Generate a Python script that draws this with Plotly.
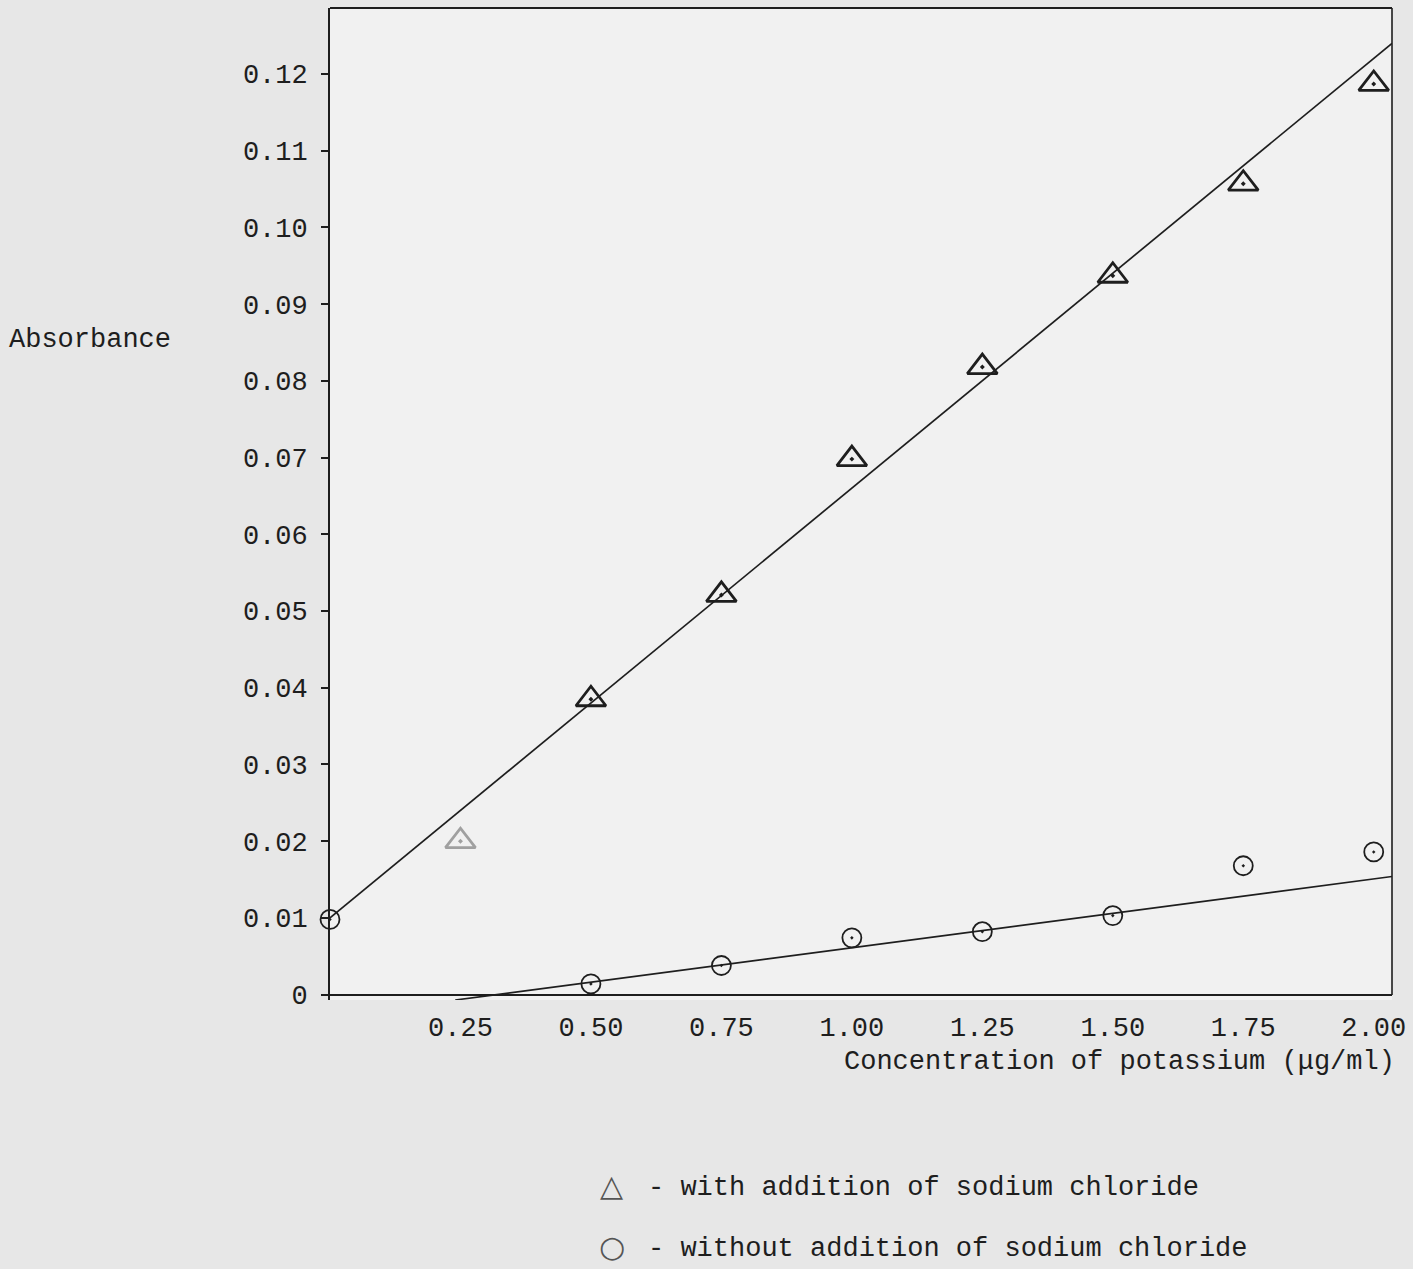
import plotly.graph_objects as go

# ---- data ----
conc_with = [0.25, 0.50, 0.75, 1.00, 1.25, 1.50, 1.75, 2.00]
abs_with = [0.0200, 0.0385, 0.0521, 0.0698, 0.0818, 0.0937, 0.1057, 0.1187]

conc_without = [0.00, 0.50, 0.75, 1.00, 1.25, 1.50, 1.75, 2.00]
abs_without = [0.0098, 0.0014, 0.0038, 0.0074, 0.0082, 0.0103, 0.0168, 0.0186]

# fitted straight lines (end points as drawn)
fit_with_x = [0.00, 2.035]
fit_with_y = [0.0100, 0.1240]
fit_without_x = [0.24, 2.035]
fit_without_y = [-0.0007, 0.0154]

y_ticks = [0, 0.01, 0.02, 0.03, 0.04, 0.05, 0.06, 0.07, 0.08, 0.09, 0.10, 0.11, 0.12]
y_tick_labels = ["0", "0.01", "0.02", "0.03", "0.04", "0.05", "0.06", "0.07",
                 "0.08", "0.09", "0.10", "0.11", "0.12"]
x_ticks = [0.25, 0.50, 0.75, 1.00, 1.25, 1.50, 1.75, 2.00]
x_tick_labels = ["0.25", "0.50", "0.75", "1.00", "1.25", "1.50", "1.75", "2.00"]

legend_symbols = ["\u25b3", "\u25cb"]
legend_texts = ["- with addition of sodium chloride",
                "- without addition of sodium chloride"]

FONT = "Liberation Mono, Courier New, monospace"
INK = "#1e1e1e"

fig = go.Figure()

fig.add_trace(go.Scatter(x=fit_with_x, y=fit_with_y, mode="lines",
                         line=dict(color=INK, width=1.7), showlegend=False,
                         hoverinfo="skip"))
fig.add_trace(go.Scatter(x=fit_without_x, y=fit_without_y, mode="lines",
                         line=dict(color=INK, width=1.7), showlegend=False,
                         hoverinfo="skip"))

tri_colors = ["#a0a0a0"] + [INK] * (len(conc_with) - 1)
fig.add_trace(go.Scatter(
    x=conc_with, y=abs_with, mode="markers", name="with addition of sodium chloride",
    marker=dict(symbol="triangle-up-open-dot", size=26, color=tri_colors,
                line=dict(width=2.8, color=tri_colors)),
    cliponaxis=False, showlegend=False))
fig.add_trace(go.Scatter(
    x=conc_without, y=abs_without, mode="markers", name="without addition of sodium chloride",
    marker=dict(symbol="circle-open-dot", size=19, color=INK,
                line=dict(width=1.8, color=INK)),
    cliponaxis=False, showlegend=False))

# frame: top and right edges
fig.add_shape(type="line", xref="paper", yref="paper", x0=0, x1=1, y0=1, y1=1,
              line=dict(color=INK, width=1.8))
fig.add_shape(type="line", xref="paper", yref="paper", x0=1, x1=1, y0=0.005, y1=1,
              line=dict(color=INK, width=1.6))

annotations = [
    dict(text="Absorbance", xref="paper", yref="paper", x=-0.304, y=0.665,
         xanchor="left", yanchor="middle", showarrow=False,
         font=dict(family=FONT, size=27, color=INK)),
    dict(text="Concentration of potassium (\u03bcg/ml)", xref="paper", yref="paper",
         x=1.005, y=-0.063, xanchor="right", yanchor="middle", showarrow=False,
         font=dict(family=FONT, size=27, color=INK)),
]
legend_y = [-0.190, -0.251]
for sym, txt, yy in zip(legend_symbols, legend_texts, legend_y):
    annotations.append(dict(text=sym, xref="paper", yref="paper", x=0.2655, y=yy + 0.003,
                            xanchor="center", yanchor="middle", showarrow=False,
                            font=dict(family="DejaVu Sans", size=30, color="#555555")))
    annotations.append(dict(text=txt, xref="paper", yref="paper", x=0.298, y=yy,
                            xanchor="left", yanchor="middle", showarrow=False,
                            font=dict(family=FONT, size=27, color=INK)))

fig.update_layout(
    width=1413, height=1269,
    margin=dict(l=330, r=21, t=8, b=269),
    paper_bgcolor="#e7e7e7",
    plot_bgcolor="#f1f1f1",
    font=dict(family=FONT, size=27, color=INK),
    xaxis=dict(range=[0, 2.035], tickvals=x_ticks, ticktext=x_tick_labels,
               showgrid=False, zeroline=False, showline=False,
               ticks="", ticklabelstandoff=8),
    yaxis=dict(range=[-0.0007, 0.1286], tickvals=y_ticks, ticktext=y_tick_labels,
               showgrid=False, zeroline=True, zerolinecolor=INK, zerolinewidth=1.8,
               showline=True, linecolor=INK, linewidth=1.8,
               ticks="outside", ticklen=7, tickwidth=2, tickcolor=INK,
               ticklabelstandoff=8),
    annotations=annotations,
)

fig.write_html("out.html", config={"displayModeBar": False},
               post_script="document.body.style.margin='0';document.body.style.overflow='hidden';")
